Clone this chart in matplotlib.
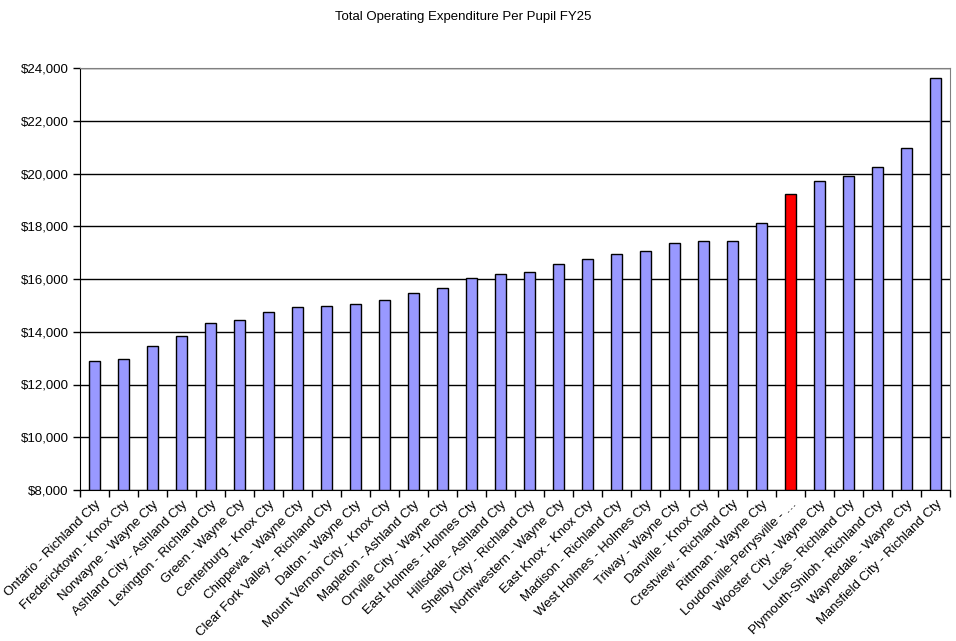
import numpy as np
import matplotlib
matplotlib.use("Agg")
import matplotlib.pyplot as plt
from matplotlib.ticker import FuncFormatter, FixedLocator

plt.rcParams['font.family'] = ['Liberation Sans', 'DejaVu Sans']

districts = [
    "Ontario - Richland Cty", "Fredericktown - Knox Cty", "Norwayne - Wayne Cty",
    "Ashland City - Ashland Cty", "Lexington - Richland Cty", "Green - Wayne Cty",
    "Centerburg - Knox Cty", "Chippewa - Wayne Cty", "Clear Fork Valley - Richland Cty",
    "Dalton - Wayne Cty", "Mount Vernon City - Knox Cty", "Mapleton - Ashland Cty",
    "Orrville City - Wayne Cty", "East Holmes - Holmes Cty", "Hillsdale - Ashland Cty",
    "Shelby City - Richland Cty", "Northwestern - Wayne Cty", "East Knox - Knox Cty",
    "Madison - Richland Cty", "West Holmes - Holmes Cty", "Triway - Wayne Cty",
    "Danville - Knox Cty", "Crestview - Richland Cty", "Rittman - Wayne Cty",
    "Loudonville-Perrysville - \u2026", "Wooster City - Wayne Cty", "Lucas - Richland Cty",
    "Plymouth-Shiloh - Richland Cty", "Waynedale - Wayne Cty", "Mansfield City - Richland Cty",
]
spending = [
    12890, 12970, 13450, 13840, 14330, 14440, 14760, 14940, 14970, 15050,
    15200, 15470, 15660, 16040, 16190, 16270, 16570, 16760, 16950, 17060,
    17370, 17440, 17440, 18140, 19240, 19730, 19890, 20230, 20950, 23630,
]
highlight = "Loudonville-Perrysville - \u2026"

fig = plt.figure(figsize=(9.56, 6.41), dpi=100)
ax = fig.add_axes([80 / 956, 1 - 490 / 641, 870 / 956, 422 / 641])

x = np.arange(len(districts))
colors = ['#FF0000' if d == highlight else '#9999FF' for d in districts]
ax.bar(x, np.array(spending) - 8000, bottom=8000, width=0.38, color=colors,
       edgecolor='black', linewidth=1, zorder=3)

ax.set_ylim(8000, 24000)
ax.set_xlim(-0.5, len(districts) - 0.5)
ax.set_yticks(np.arange(8000, 24001, 2000))
ax.yaxis.set_major_formatter(FuncFormatter(lambda v, p: "${:,.0f}".format(v)))
ax.yaxis.grid(True, color='black', linewidth=1, zorder=0)
ax.tick_params(axis='y', direction='out', length=5, width=1, labelsize=9.5, pad=3)

# category ticks sit between bars, labels centred on bars
ax.xaxis.set_major_locator(FixedLocator(np.arange(-0.5, len(districts), 1)))
ax.xaxis.set_major_formatter(FuncFormatter(lambda v, p: ""))
ax.xaxis.set_minor_locator(FixedLocator(x))
ax.set_xticklabels(districts, minor=True, rotation=45, ha='right',
                   rotation_mode='anchor', fontsize=9.5)
ax.tick_params(axis='x', which='major', direction='out', length=5, width=1)
ax.tick_params(axis='x', which='minor', length=0, pad=6)

ax.spines['left'].set_color('black')
ax.spines['bottom'].set_color('black')
ax.spines['top'].set_color('#808080')
ax.spines['right'].set_color('#808080')

fig.text(0.485, 1 - 17 / 641, "Total Operating Expenditure Per Pupil FY25",
         ha='center', va='center', fontsize=9.5)

fig.savefig("out.png", dpi=100)
